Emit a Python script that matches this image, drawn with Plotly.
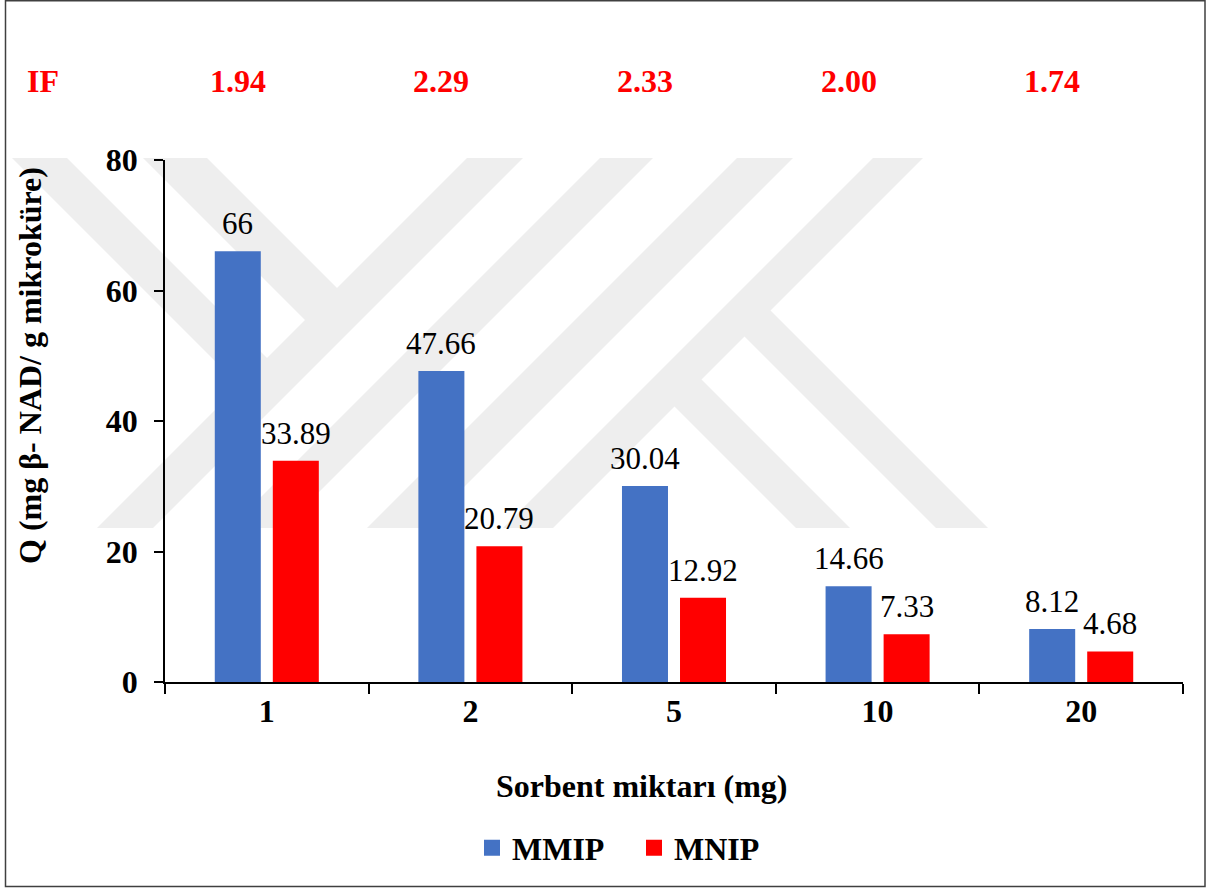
import plotly.graph_objects as go

# Sorbent amount (mg) vs. adsorption capacity of the microspheres
sorbent_mg = ["1", "2", "5", "10", "20"]
q_mmip = [66, 47.66, 30.04, 14.66, 8.12]
q_mnip = [33.89, 20.79, 12.92, 7.33, 4.68]
imprinting_factor = [1.94, 2.29, 2.33, 2.00, 1.74]
y_ticks = [0, 20, 40, 60, 80]

# Figure geometry (pixels)
W, H = 1210, 888
L, R, T, B = 165, 27, 160, 206
PW, PH = W - L - R, H - T - B
BARGAP, GROUPGAP = 0.43, 0.207
# horizontal offset of each bar centre from its category centre
SLOT = PW / len(sorbent_mg) * (1 - BARGAP) / 2
OFFSET = SLOT / 2


def fx(px):
    return (px - L) / PW


def fy(py):
    return (H - B - py) / PH


SERIF = "Liberation Serif, Times New Roman, serif"
BLUE = "#4472C4"
RED = "#FF0000"
WM = "#eeeeee"

fig = go.Figure()
fig.add_trace(go.Bar(x=sorbent_mg, y=q_mmip, name="MMIP", marker=dict(color=BLUE, line_width=0),
                     showlegend=False, legendgroup="MMIP"))
fig.add_trace(go.Bar(x=sorbent_mg, y=q_mnip, name="MNIP", marker=dict(color=RED, line_width=0),
                     showlegend=False, legendgroup="MNIP"))
# legend entries with larger square swatches
for name, col in (("MMIP", BLUE), ("MNIP", RED)):
    fig.add_trace(go.Scatter(x=[None], y=[None], mode="markers", name=name, legendgroup=name,
                             marker=dict(symbol="square", size=16, color=col)))

annotations = []
# value labels above each bar (x given as category index)
for i, (vm, vn) in enumerate(zip(q_mmip, q_mnip)):
    for val, sh in ((vm, -OFFSET), (vn, OFFSET)):
        annotations.append(dict(x=i, y=val, xref="x", yref="y", xshift=sh, yshift=8,
                                yanchor="bottom", showarrow=False, text=f"{val:g}",
                                font=dict(family=SERIF, size=31, color="black")))
# imprinting factor row
annotations.append(dict(x=fx(25), y=fy(81), xref="paper", yref="paper", xanchor="left",
                        yanchor="middle", showarrow=False, text="IF",
                        font=dict(family=SERIF, size=32, color=RED, weight="bold")))
for i, f in enumerate(imprinting_factor):
    annotations.append(dict(x=i, y=fy(81), xref="x", yref="paper", xshift=-OFFSET,
                            yanchor="middle", showarrow=False, text=f"{f:.2f}",
                            font=dict(family=SERIF, size=32, color=RED, weight="bold")))
# axis titles
annotations.append(dict(x=fx(30), y=fy(366), xref="paper", yref="paper", textangle=-90,
                        xanchor="center", yanchor="middle", showarrow=False,
                        text="Q (mg β- NAD/ g mikroküre)",
                        font=dict(family=SERIF, size=32, color="black", weight="bold")))
annotations.append(dict(x=fx(642), y=fy(786), xref="paper", yref="paper",
                        xanchor="center", yanchor="middle", showarrow=False,
                        text="Sorbent miktarı (mg)",
                        font=dict(family=SERIF, size=32, color="black", weight="bold")))

# faint background emblem made of 45-degree bands (pixel vertices)
emblem = [
    [(12, 158), (67, 158), (281, 372), (253.5, 399.5)],
    [(143, 158), (207, 158), (351, 302), (319, 334)],
    [(467, 158), (523, 158), (153, 528), (97, 528)],
    [(600, 158), (653, 158), (283, 528), (230, 528)],
    [(737, 158), (793, 158), (423, 528), (367, 528)],
    [(873, 158), (923, 158), (553, 528), (503, 528)],
    [(758, 298), (988, 528), (936, 528), (732, 324)],
    [(689, 367), (850, 528), (796, 528), (662, 394)],
]
shapes = []
for poly in emblem:
    path = "M " + " L ".join(f"{fx(px):.5f},{fy(py):.5f}" for px, py in poly) + " Z"
    shapes.append(dict(type="path", path=path, xref="paper", yref="paper",
                       fillcolor=WM, line=dict(width=0), layer="below"))
# outer frame
shapes.append(dict(type="rect", xref="paper", yref="paper", x0=fx(5.5), x1=fx(1205),
                   y0=fy(886.5), y1=fy(0.75), line=dict(color="#404040", width=1.5),
                   fillcolor="rgba(0,0,0,0)", layer="above"))

fig.update_layout(
    width=W, height=H,
    margin=dict(l=L, r=R, t=T, b=B, autoexpand=False),
    paper_bgcolor="white", plot_bgcolor="rgba(0,0,0,0)",
    barmode="group", bargap=BARGAP, bargroupgap=GROUPGAP,
    font=dict(family=SERIF, color="black"),
    shapes=shapes, annotations=annotations,
    legend=dict(orientation="h", x=fx(472), xanchor="left", y=fy(848), yanchor="middle",
                font=dict(family=SERIF, size=32, color="black", weight="bold"),
                bgcolor="rgba(0,0,0,0)", itemsizing="trace",
                entrywidth=117, entrywidthmode="pixels"),
    xaxis=dict(type="category", categoryorder="array", categoryarray=sorbent_mg,
               range=[-0.5, len(sorbent_mg) - 0.5], autorange=False,
               tickson="boundaries", ticks="outside", ticklen=10, tickwidth=1.5,
               tickcolor="black", showline=True, linecolor="black", linewidth=1.5,
               showgrid=False, zeroline=False,
               tickfont=dict(family=SERIF, size=32, color="black", weight="bold")),
    yaxis=dict(range=[0, 80], autorange=False, tickmode="array", tickvals=y_ticks,
               ticks="outside", ticklen=9, tickwidth=1.5, tickcolor="black", showline=True,
               linecolor="black", linewidth=1.5, showgrid=False, zeroline=False,
               ticklabelstandoff=10,
               tickfont=dict(family=SERIF, size=32, color="black", weight="bold")),
)

fig.write_html("out.html")
